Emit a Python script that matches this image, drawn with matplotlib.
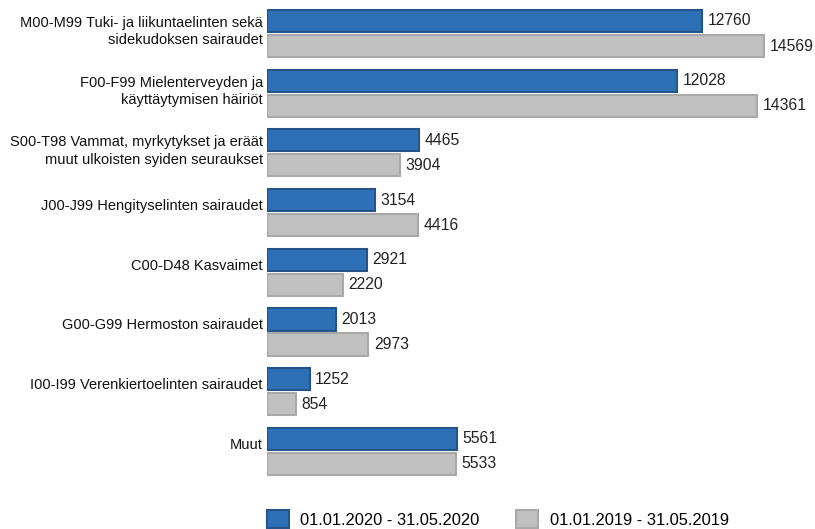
import matplotlib
matplotlib.use("Agg")
import matplotlib.pyplot as plt
import numpy as np
from matplotlib.patches import Patch

plt.rcParams['font.family'] = ['Liberation Sans', 'DejaVu Sans']

categories = [
    "M00-M99 Tuki- ja liikuntaelinten sekä\nsidekudoksen sairaudet",
    "F00-F99 Mielenterveyden ja\nkäyttäytymisen häiriöt",
    "S00-T98 Vammat, myrkytykset ja eräät\nmuut ulkoisten syiden seuraukset",
    "J00-J99 Hengityselinten sairaudet",
    "C00-D48 Kasvaimet",
    "G00-G99 Hermoston sairaudet",
    "I00-I99 Verenkiertoelinten sairaudet",
    "Muut",
]
values_2020 = [12760, 12028, 4465, 3154, 2921, 2013, 1252, 5561]
values_2019 = [14569, 14361, 3904, 4416, 2220, 2973, 854, 5533]
series_names = ["01.01.2020 - 31.05.2020", "01.01.2019 - 31.05.2019"]

blue = "#2e70b6"
blue_edge = "#23548a"
grey = "#c0c0c0"
grey_edge = "#a9a9a9"

fig = plt.figure(figsize=(8.15, 5.29), dpi=100)
W, H = 815, 529
ax = fig.add_axes([267 / W, 1 - 490 / H, 1 - 267 / W, 490 / H])

y = np.arange(len(categories))
h = 0.37
off = 0.21
ax.barh(y - off, values_2020, height=h, color=blue, edgecolor=blue_edge, linewidth=1.5)
ax.barh(y + off, values_2019, height=h, color=grey, edgecolor=grey_edge, linewidth=1.5)

for yi, v in zip(y, values_2020):
    ax.annotate(str(v), (v, yi - off), xytext=(4, 0), textcoords="offset points",
                va="center", ha="left", fontsize=11.3, color="#222222")
for yi, v in zip(y, values_2019):
    ax.annotate(str(v), (v, yi + off), xytext=(4, 0), textcoords="offset points",
                va="center", ha="left", fontsize=11.3, color="#222222")

ax.set_xlim(0, 16070)
ax.set_ylim((490 - 33.5) / 59.7, -33.5 / 59.7)

# category labels sit a little above the group centre
for yi, lab in zip(y, categories):
    shift = 0.03 if "\n" in lab else 0.11
    ax.annotate(lab, (0, yi - shift), xytext=(-3, 0), textcoords="offset points",
                ha="right", va="center", fontsize=10.5, color="#111111",
                linespacing=1.32, multialignment="right")
ax.set_yticks([])
ax.set_xticks([])
for s in ax.spines.values():
    s.set_visible(False)

handles = [Patch(facecolor=blue, edgecolor=blue_edge, linewidth=1.5),
           Patch(facecolor=grey, edgecolor=grey_edge, linewidth=1.5)]
fig.legend(handles, series_names, loc="upper left", bbox_to_anchor=(267 / W, 1 - 510 / H),
           ncol=2, frameon=False, fontsize=11.9, handlelength=1.33, handleheight=1.33,
           columnspacing=2.25, handletextpad=0.67, borderaxespad=0, borderpad=0)

fig.savefig("out.png", dpi=100)
